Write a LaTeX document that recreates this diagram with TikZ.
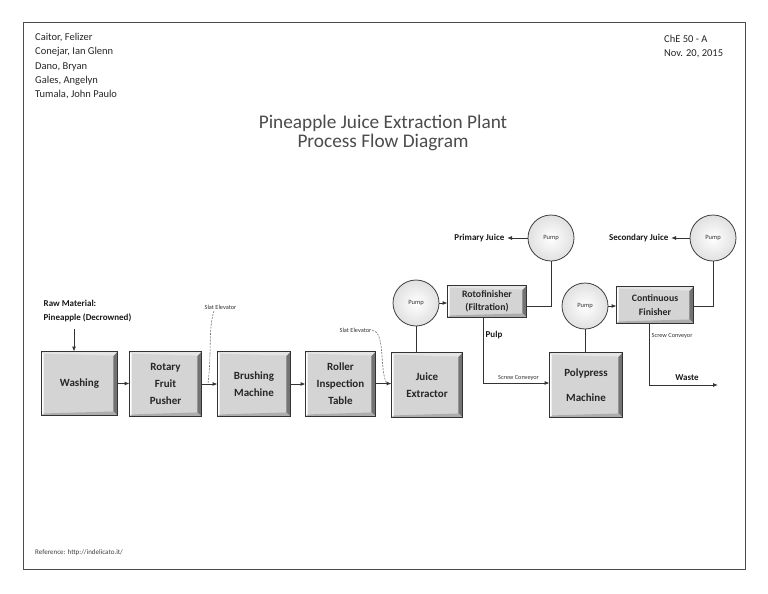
\documentclass[tikz,border=0pt]{standalone}
\usepackage{fontspec}
\setmainfont{Carlito}
\usetikzlibrary{arrows.meta,calc,shapes.geometric}
\tikzset{
  box/.style={draw=black!80, fill=black!17, line width=0.9pt, align=center, inner sep=0pt, text=black!85},
  bigbox/.style={box, minimum width=71pt, minimum height=64pt, font=\bfseries\fontsize{11}{17}\selectfont},
  smallbox/.style={box, font=\bfseries\fontsize{9.8}{13.5}\selectfont},
  pumpnode/.style={circle, draw=black!75, line width=0.8pt, minimum size=46pt, inner sep=0pt, inner color=white, outer color=black!12, font=\fontsize{6.5}{7}\selectfont, text=black!80},
  flow/.style={draw=black!80, line width=0.9pt, -{Latex[length=5pt,width=4pt]}},
  plain/.style={draw=black!80, line width=0.9pt},
  slat/.style={draw=black!55, line width=0.6pt, dash pattern=on 2pt off 1.2pt},
  tiny/.style={font=\fontsize{6.3}{7}\selectfont, text=black!80, inner sep=0.5pt},
  lbl/.style={font=\bfseries\fontsize{9}{14}\selectfont, text=black!90, inner sep=0.5pt},
  info/.style={font=\fontsize{10.5}{14.3}\selectfont, text=black!85, align=left, inner sep=0pt},
}
\newcommand\bevelbox[1]{%
  \fill[black!55] (#1.north east) -- (#1.south east) -- ($(#1.south east)+(-4,-4)$) -- ($(#1.north east)+(-4,4)$) -- cycle;
  \fill[black!32] (#1.south west) -- (#1.south east) -- ($(#1.south east)+(-4,-4)$) -- ($(#1.south west)+(2,-2)$) -- cycle;
  \fill[white!90!black] (#1.north west) -- (#1.north east) -- ($(#1.north east)+(-4,4)$) -- ($(#1.north west)+(2,2)$) -- cycle;
  \fill[white] (#1.north west) -- (#1.south west) -- ($(#1.south west)+(2,-2)$) -- ($(#1.north west)+(2,2)$) -- cycle;
  \draw[black!80, line width=0.9pt] (#1.north west) rectangle (#1.south east);
}
\begin{document}
\begin{tikzpicture}[x=1pt,y=-1pt]
\useasboundingbox (0,0) rectangle (768,594);
\fill[white] (0,0) rectangle (768,594);
\draw[black!70, line width=1pt] (23,23) rectangle (745,569);

% header
\node[info, anchor=north west] (authors) at (35,33) {Caitor, Felizer\\Conejar, Ian Glenn\\Dano, Bryan\\Gales, Angelyn\\Tumala, John Paulo};
\node[info, anchor=north west] (course) at (664,35) {ChE 50 - A\\Nov. 20, 2015};
\node[font=\fontsize{19.3}{19.5}\selectfont, text=black!70, align=center] (title) at (383,133) {Pineapple Juice Extraction Plant\\Process Flow Diagram};
\node[font=\fontsize{7}{8}\selectfont, text=black!75, anchor=west, inner sep=0pt] (ref) at (35,553) {Reference: http://indelicato.it/};

% main row
\node[bigbox, minimum width=75pt, minimum height=63pt] (wash) at (79.5,383.5) {Washing};
\bevelbox{wash}
\node[bigbox] (rotary) at (165.5,384) {Rotary\\Fruit\\Pusher};
\bevelbox{rotary}
\node[bigbox, minimum width=72pt] (brush) at (254,384) {Brushing\\Machine};
\bevelbox{brush}
\node[bigbox, minimum width=69pt] (roller) at (340.5,384) {Roller\\Inspection\\Table};
\bevelbox{roller}
\node[bigbox, minimum width=70pt] (extractor) at (427,385) {Juice\\Extractor};
\bevelbox{extractor}
\node[bigbox, minimum width=72pt, font=\bfseries\fontsize{11}{25}\selectfont] (poly) at (586,385) {Polypress\\Machine};
\bevelbox{poly}
\node[smallbox, minimum width=78pt, minimum height=31pt] (roto) at (487,301.5) {Rotofinisher\\(Filtration)};
\bevelbox{roto}
\node[smallbox, minimum width=76pt, minimum height=36pt] (finisher) at (655,305) {Continuous\\Finisher};
\bevelbox{finisher}

% pumps
\node[pumpnode] (pump1) at (416,303) {Pump};
\node[pumpnode] (pump2) at (551,238) {Pump};
\node[pumpnode] (pump3) at (585,306) {Pump};
\node[pumpnode] (pump4) at (713,238) {Pump};

% raw material
\node[lbl, anchor=west, align=left] (raw) at (43,311) {Raw Material:\\Pineapple (Decrowned)};
\coordinate (rawtop) at (74,329);
\draw[flow] (rawtop) -- (rawtop |- wash.north);

% main flow arrows
\draw[flow] (wash.east) -- (rotary.west |- wash.east);
\draw[flow] (rotary.east) -- (brush.west |- rotary.east);
\draw[flow] (brush.east) -- (roller.west |- brush.east);
\draw[flow] ($(roller.east)+(0,-0.5)$) -- ($(extractor.west)+(0,-1.5)$);

% slat elevators
\node[tiny] (slat1) at (220.5,307) {Slat Elevator};
\coordinate (slat1end) at (208,383.5);
\draw[slat] (214,311) .. controls (208,330) and (212,350) .. (slat1end);
\node[tiny] (slat2) at (355.5,330.5) {Slat Elevator};
\coordinate (slat2end) at (387,383.5);
\draw[slat] (slat2.east) .. controls (386,331) and (379,372) .. (slat2end);

% extractor -> pump1 -> rotofinisher
\draw[plain] (pump1.south |- extractor.north) -- (pump1.south);
\draw[flow] (pump1.east) -- (roto.west |- pump1.east);

% rotofinisher -> pump2 -> primary juice
\draw[plain] (pump2.south) |- ($(roto.east)+(0,4.5)$);
\node[lbl, anchor=east] (pj) at (505,238) {Primary Juice};
\draw[flow] (pump2.west) -- ($(pj.east)+(2,0)$);

% pulp to polypress
\node[lbl, anchor=west] (pulp) at (485,335) {Pulp};
\draw[flow] ($(roto.south)+(-4,0)$) |- ($(poly.west)+(0,-2)$);
\node[tiny] (sc1) at (518.5,378) {Screw Conveyor};

% polypress -> pump3 -> finisher
\draw[plain] (pump3.south |- poly.north) -- (pump3.south);
\draw[flow] (pump3.east) -- (finisher.west |- pump3.east);

% finisher -> pump4 -> secondary juice
\draw[plain] (pump4.south) |- ($(finisher.east)+(0,1)$);
\node[lbl, anchor=east] (sj) at (669,238) {Secondary Juice};
\draw[flow] (pump4.west) -- ($(sj.east)+(2,0)$);

% waste
\node[tiny, anchor=west] (sc2) at (651,336) {Screw Conveyor};
\coordinate (wasteend) at (718,385);
\draw[flow] ($(finisher.south)+(-6,0)$) |- (wasteend);
\node[lbl] (waste) at (687,378) {Waste};
\end{tikzpicture}
\end{document}
